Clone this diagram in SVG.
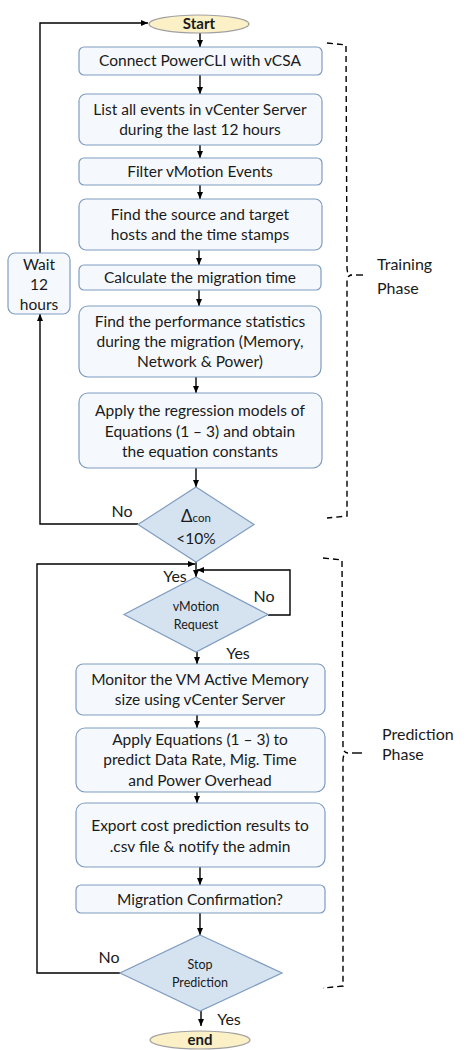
<svg xmlns="http://www.w3.org/2000/svg" width="468" height="1050" viewBox="0 0 468 1050">
<style>
.box{fill:#f5f9fd;stroke:#7f9cc0;stroke-width:1.2}
.dia{fill:#d5e3f1;stroke:#7f9cc0;stroke-width:1.2}
.term{fill:#fbf0c6;stroke:#a0a0a0;stroke-width:1.2}
text{font-family:Lato,"Liberation Sans",sans-serif;fill:#1a1a1a}
.t{font-size:15.5px;text-anchor:middle}
.s{font-size:12.5px;text-anchor:middle}
.b{font-size:15px;font-weight:bold;text-anchor:middle}
.l{font-size:16px;text-anchor:middle}
.ph{font-size:16px}
.c{fill:none;stroke:#000;stroke-width:1.4}
.br{fill:none;stroke:#000;stroke-width:1.4;stroke-dasharray:6 4}
</style>
<defs>
<marker id="ah" markerWidth="7" markerHeight="6" refX="7" refY="3" orient="auto" markerUnits="userSpaceOnUse">
<path d="M0,0 L7,3 L0,6 z" fill="#000"/>
</marker>
</defs>
<rect width="468" height="1050" fill="#fff"/>

<g id="connectors">
<line class="c" x1="200" y1="33" x2="200" y2="47" marker-end="url(#ah)"/>
<line class="c" x1="200" y1="75" x2="200" y2="94" marker-end="url(#ah)"/>
<line class="c" x1="200" y1="145" x2="200" y2="158" marker-end="url(#ah)"/>
<line class="c" x1="200" y1="185" x2="200" y2="199" marker-end="url(#ah)"/>
<line class="c" x1="199" y1="250" x2="199" y2="265" marker-end="url(#ah)"/>
<line class="c" x1="199" y1="290" x2="199" y2="306" marker-end="url(#ah)"/>
<line class="c" x1="196" y1="377" x2="196" y2="393" marker-end="url(#ah)"/>
<line class="c" x1="196" y1="468" x2="196" y2="487" marker-end="url(#ah)"/>
<line class="c" x1="196" y1="562" x2="196" y2="577" marker-end="url(#ah)"/>
<line class="c" x1="197" y1="652" x2="197" y2="664" marker-end="url(#ah)"/>
<line class="c" x1="197" y1="715" x2="197" y2="728" marker-end="url(#ah)"/>
<line class="c" x1="197" y1="792" x2="197" y2="803" marker-end="url(#ah)"/>
<line class="c" x1="200" y1="867" x2="200" y2="885" marker-end="url(#ah)"/>
<line class="c" x1="200" y1="913" x2="200" y2="935" marker-end="url(#ah)"/>
<line class="c" x1="201" y1="1011" x2="201" y2="1026" marker-end="url(#ah)"/>
<polyline class="c" points="138,524 40,524 40,314" marker-end="url(#ah)"/>
<polyline class="c" points="40,253 40,23 148,23" marker-end="url(#ah)"/>
<polyline class="c" points="120,973 37,973 37,564 195,564" marker-end="url(#ah)"/>
<polyline class="c" points="268,615 290,615 290,570 197,570" marker-end="url(#ah)"/>
<text class="l" x="122" y="517">No</text>
<text class="l" x="175" y="582">Yes</text>
<text class="l" x="264" y="602">No</text>
<text class="l" x="238" y="659">Yes</text>
<text class="l" x="109" y="963">No</text>
<text class="l" x="229" y="1025">Yes</text>
</g>

<g id="start"><ellipse class="term" cx="199" cy="24" rx="50" ry="9"/><text class="b" x="199" y="29">Start</text></g>
<g id="connect"><rect class="box" x="79" y="47" width="243" height="28" rx="5"/><text class="t" x="200" y="66">Connect PowerCLI with vCSA</text></g>
<g id="list"><rect class="box" x="79" y="94" width="243" height="51" rx="7"/><text class="t" x="200" y="115">List all events in vCenter Server</text><text class="t" x="200" y="135">during the last 12 hours</text></g>
<g id="filter"><rect class="box" x="79" y="158" width="243" height="27" rx="5"/><text class="t" x="200" y="177">Filter vMotion Events</text></g>
<g id="find"><rect class="box" x="79" y="199" width="243" height="51" rx="7"/><text class="t" x="200" y="220">Find the source and target</text><text class="t" x="200" y="240">hosts and the time stamps</text></g>
<g id="wait"><rect class="box" x="8" y="253" width="62" height="61" rx="7"/><text class="t" x="39" y="270">Wait</text><text class="t" x="39" y="290">12</text><text class="t" x="39" y="310">hours</text></g>
<g id="calc"><rect class="box" x="79" y="265" width="242" height="25" rx="5"/><text class="t" x="200" y="283">Calculate the migration time</text></g>
<g id="perf"><rect class="box" x="79" y="306" width="242" height="71" rx="9"/><text class="t" x="200" y="327">Find the performance statistics</text><text class="t" x="200" y="347">during the migration (Memory,</text><text class="t" x="200" y="367">Network &amp;  Power)</text></g>
<g id="regress"><rect class="box" x="79" y="393" width="243" height="75" rx="9"/><text class="t" x="200" y="416">Apply the regression models of</text><text class="t" x="200" y="437">Equations (1 – 3) and obtain</text><text class="t" x="200" y="457">the equation constants</text></g>
<g id="delta"><polygon class="dia" points="196,487 254,524.5 196,562 138,524.5"/><text class="t" x="196" y="522"><tspan font-size="17">Δ</tspan><tspan font-size="11.5">con</tspan></text><text class="t" x="196" y="544">&lt;10%</text></g>

<g id="vmotion"><polygon class="dia" points="196,577 268,614.5 196,652 124,614.5"/><text class="s" x="196" y="611">vMotion</text><text class="s" x="196" y="629">Request</text></g>
<g id="monitor"><rect class="box" x="76" y="664" width="249" height="51" rx="7"/><text class="t" x="200" y="685">Monitor the VM Active Memory</text><text class="t" x="200" y="705">size using vCenter Server</text></g>
<g id="apply"><rect class="box" x="76" y="728" width="249" height="64" rx="9"/><text class="t" x="200" y="745">Apply Equations (1 – 3) to</text><text class="t" x="200" y="765">predict Data Rate, Mig. Time</text><text class="t" x="200" y="786">and Power Overhead</text></g>
<g id="export"><rect class="box" x="76" y="803" width="249" height="64" rx="9"/><text class="t" x="200" y="831">Export cost prediction results to</text><text class="t" x="200" y="852">.csv file &amp; notify the admin</text></g>
<g id="confirm"><rect class="box" x="76" y="885" width="249" height="28" rx="5"/><text class="t" x="200" y="905">Migration Confirmation?</text></g>
<g id="stop"><polygon class="dia" points="200,935 282,973 200,1011 120,973"/><text class="s" x="200" y="969">Stop</text><text class="s" x="200" y="987">Prediction</text></g>
<g id="end"><ellipse class="term" cx="200" cy="1040" rx="50" ry="9"/><text class="b" x="200" y="1045">end</text></g>

<g id="training-phase">
<path class="br" d="M327,43 L346,45 L347,268 Q347,275 352,275 Q347,275 347,282 L347,516 L327,518"/>
<line x1="356" y1="275" x2="363" y2="275" stroke="#000" stroke-width="1.4"/>
<text class="ph" x="377" y="270">Training</text>
<text class="ph" x="377" y="294">Phase</text>
</g>
<g id="prediction-phase">
<path class="br" d="M323,558 L342,560 L343,746 Q343,753 348,753 Q343,753 343,760 L343,986 L323,988"/>
<line x1="352" y1="753" x2="362" y2="753" stroke="#000" stroke-width="1.4"/>
<text class="ph" x="382" y="740">Prediction</text>
<text class="ph" x="382" y="760">Phase</text>
</g>
</svg>
